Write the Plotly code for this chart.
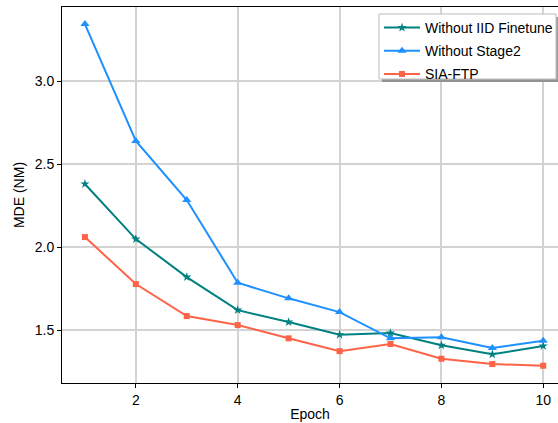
import plotly.graph_objects as go

epochs = [1, 2, 3, 4, 5, 6, 7, 8, 9, 10]
without_iid = [2.380, 2.048, 1.819, 1.620, 1.548, 1.472, 1.482, 1.408, 1.354, 1.404]
without_stage2 = [3.343, 2.639, 2.283, 1.785, 1.691, 1.608, 1.450, 1.456, 1.392, 1.436]
sia_ftp = [2.060, 1.777, 1.584, 1.530, 1.450, 1.373, 1.416, 1.327, 1.295, 1.285]

W, H = 558, 423
L, R, T, B = 62, 0, 7, 40
pw, ph = W - L - R, H - T - B

fig = go.Figure()
fig.add_trace(go.Scatter(x=epochs, y=without_iid, mode="lines+markers", name="Without IID Finetune",
                         legendgroup="a",
                         line=dict(color="#008080", width=2),
                         marker=dict(symbol="star", size=7, color="#008080")))
fig.add_trace(go.Scatter(x=epochs, y=without_stage2, mode="lines+markers", name="Without Stage2",
                         legendgroup="b",
                         line=dict(color="#1E90FF", width=2),
                         marker=dict(symbol="triangle-up", size=8, color="#1E90FF")))
fig.add_trace(go.Scatter(x=epochs, y=sia_ftp, mode="lines+markers", name="SIA-FTP",
                         legendgroup="c",
                         line=dict(color="#FF6347", width=2),
                         marker=dict(symbol="square", size=6, color="#FF6347")))

def px2paper(x, y):
    return (x - L) / pw, 1 - (y - T) / ph

# legend shadow and frame
sx0, sy0 = px2paper(382, 17)
sx1, sy1 = px2paper(560, 82)
fig.add_shape(type="rect", xref="paper", yref="paper", x0=sx0, x1=sx1, y0=sy1, y1=sy0,
              fillcolor="rgba(110,110,110,0.65)", line=dict(width=0), layer="above")
bx0, by0 = px2paper(379, 14)
bx1, by1 = px2paper(556, 79)
fig.add_shape(type="rect", xref="paper", yref="paper", x0=bx0, x1=bx1, y0=by1, y1=by0,
              fillcolor="white", line=dict(color="#bbbbbb", width=1), layer="above")

lx, ly = px2paper(379, 12)
fig.update_layout(
    width=W, height=H,
    margin=dict(l=L, r=R, t=T, b=B),
    paper_bgcolor="white", plot_bgcolor="white",
    font=dict(family="Liberation Sans, Arial", size=14, color="black"),
    showlegend=True,
    legend=dict(x=lx, y=ly, xanchor="left", yanchor="top",
                bgcolor="rgba(0,0,0,0)", borderwidth=0,
                font=dict(size=14), itemwidth=36, tracegroupgap=2,
                traceorder="grouped"),
    xaxis=dict(range=[0.55, 10.29], tickvals=[2, 4, 6, 8, 10], showgrid=True,
               gridcolor="#d3d3d3", gridwidth=1.5, showline=True, linecolor="black",
               linewidth=1, mirror=True, ticks="outside", ticklen=4, tickcolor="black",
               zeroline=False, title=dict(text="Epoch", font=dict(size=14), standoff=2)),
    yaxis=dict(range=[1.181, 3.446], tickvals=[1.5, 2.0, 2.5, 3.0], ticktext=["1.5", "2.0", "2.5", "3.0"],
               showgrid=True, gridcolor="#d3d3d3", gridwidth=1.5, showline=True,
               linecolor="black", linewidth=1, mirror=False, ticks="outside", ticklen=4,
               tickcolor="black", zeroline=False,
               title=dict(text="MDE (NM)", font=dict(size=14), standoff=6)),
)
fig.write_html("out.html")
